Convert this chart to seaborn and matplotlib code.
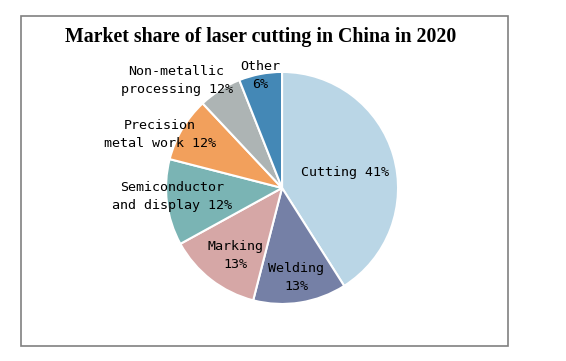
import numpy as np
import matplotlib
matplotlib.use("Agg")
import matplotlib.pyplot as plt
from matplotlib.patches import Rectangle
import seaborn as sns

# data (slice sizes) and the label texts shown on it
categories = ["Cutting", "Welding", "Marking", "Semiconductor and display",
              "Precision metal work", "Non-metallic processing", "Other"]
shares = [41, 13, 13, 12, 9, 6, 6]
label_texts = ["Cutting 41%", "Welding\n13%", "Marking\n13%",
               "Semiconductor\nand display 12%", "Precision\nmetal work 12%",
               "Non-metallic\nprocessing 12%", "Other\n6%"]
colors = ["#BAD6E6", "#7580A6", "#D6A7A6", "#7AB4B4", "#F2A05C", "#ADB4B4", "#4488B6"]

# label placement: distance from centre (in radii) and angle shift (degrees)
label_dist = [0.56, 0.78, 0.71, 0.95, 1.15, 1.30, 0.99]
label_shift = [-2, 0, 3, -3, 7, 12, 0]

sns.set_style("white")
plt.rcParams["font.family"] = ["DejaVu Sans Mono", "Liberation Mono"]

fig = plt.figure(figsize=(5.66, 3.61), dpi=100)
ax = fig.add_axes([0.2933, 0.158, 0.41, 0.6427])

wedges, _ = ax.pie(shares, colors=colors, startangle=90, counterclock=False,
                   radius=1, wedgeprops=dict(edgecolor="white", linewidth=1.5))
ax.set_xlim(-1, 1)
ax.set_ylim(-1, 1)
ax.set_aspect("equal")
ax.axis("off")

for w, txt, d, s in zip(wedges, label_texts, label_dist, label_shift):
    mid = np.deg2rad((w.theta1 + w.theta2) / 2 + s)
    ax.text(d * np.cos(mid), d * np.sin(mid), txt, ha="center", va="center",
            fontsize=9.6, color="black", linespacing=1.5, clip_on=False)

fig.text(0.46, 0.897, "Market share of laser cutting in China in 2020",
         ha="center", va="center", fontsize=14.3, fontweight="bold",
         family=["Liberation Serif", "DejaVu Serif"], color="black")

fig.patches.append(Rectangle((0.0371, 0.0416), 0.860, 0.914, transform=fig.transFigure,
                             fill=False, edgecolor="#808080", linewidth=1.2))

fig.savefig("out.png", dpi=100)
